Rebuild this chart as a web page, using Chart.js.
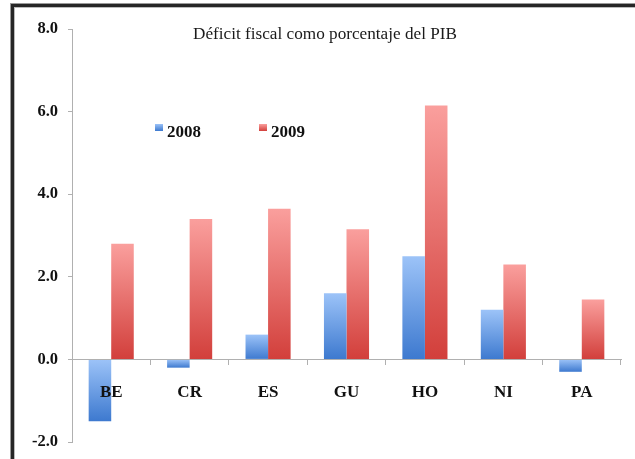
<!DOCTYPE html>
<html>
<head>
<meta charset="utf-8">
<script src="https://cdn.jsdelivr.net/npm/chart.js@4/dist/chart.umd.min.js"></script>
<style>
  html, body { margin: 0; padding: 0; background: #fff; }
  #wrap { position: relative; width: 635px; height: 459px; overflow: hidden; }
  #frame { position: absolute; left: 11px; top: 4px; width: 660px; height: 500px;
    border-top: 3px solid #262626; border-left: 3px solid #262626;
    box-shadow: -1px -1px 0 #9a9a9a, inset 1px 1px 0 #bbb; }
  canvas { position: absolute; left: 0; top: 0; }
</style>
</head>
<body>
<div id="wrap">
  <div id="frame"></div>
  <canvas id="chart" width="635" height="459"></canvas>
</div>
<script>
// datos
const paises = ['BE', 'CR', 'ES', 'GU', 'HO', 'NI', 'PA'];
const def2008 = [-1.5, -0.2, 0.6, 1.6, 2.5, 1.2, -0.3];
const def2009 = [2.8, 3.4, 3.65, 3.15, 6.15, 2.3, 1.45];
const titulo = 'Déficit fiscal como porcentaje del PIB';

const serif = 'Liberation Serif, Times New Roman, serif';

// degradado claro arriba -> oscuro abajo, para cada barra
function degradado(claro, oscuro) {
  return (c) => {
    const chart = c.chart;
    if (!chart.chartArea || c.type !== 'data' || !chart.scales.y) return oscuro;
    const y = chart.scales.y;
    const v = c.parsed.y;
    const y0 = y.getPixelForValue(Math.max(v, 0));
    const y1 = y.getPixelForValue(Math.min(v, 0));
    if (!isFinite(y0) || y1 - y0 < 1) return oscuro;
    const g = chart.ctx.createLinearGradient(0, y0, 0, y1);
    g.addColorStop(0, claro);
    g.addColorStop(1, oscuro);
    return g;
  };
}

const AZUL = ['#9cc3f8', '#3d79cf'];
const ROJO = ['#fa9f9d', '#d23f3b'];

// título y leyenda dentro del área del gráfico
const extras = {
  id: 'extras',
  afterDraw(chart) {
    const ctx = chart.ctx;
    ctx.save();
    ctx.fillStyle = '#1a1a1a';
    ctx.font = '17.2px ' + serif;
    ctx.textAlign = 'center';
    ctx.textBaseline = 'middle';
    ctx.fillText(titulo, 325, 34);

    const items = [['2008', AZUL, 155], ['2009', ROJO, 259]];
    ctx.textAlign = 'left';
    ctx.textBaseline = 'alphabetic';
    ctx.font = 'bold 17px ' + serif;
    for (const [txt, col, x] of items) {
      const g = ctx.createLinearGradient(0, 124, 0, 131);
      g.addColorStop(0, col[0]);
      g.addColorStop(1, col[1]);
      ctx.fillStyle = g;
      ctx.fillRect(x, 124, 8, 7);
      ctx.fillStyle = '#111';
      ctx.fillText(txt, x + 12, 137);
    }
    ctx.restore();
  },
};

new Chart(document.getElementById('chart'), {
  type: 'bar',
  data: {
    labels: paises,
    datasets: [
      { label: '2008', data: def2008, backgroundColor: degradado(AZUL[0], AZUL[1]) },
      { label: '2009', data: def2009, backgroundColor: degradado(ROJO[0], ROJO[1]) },
    ],
  },
  options: {
    responsive: false,
    animation: false,
    layout: { padding: { left: 0, top: 29, right: 14, bottom: 17 } },
    datasets: { bar: { categoryPercentage: 0.575, barPercentage: 1.0 } },
    scales: {
      x: {
        position: { y: 0 },
        offset: true,
        grid: { offset: true, drawOnChartArea: false, tickLength: 5, color: '#b0b0b0' },
        border: { color: '#b0b0b0' },
        // z > 0: las etiquetas se pintan encima de las barras (BE)
        ticks: { z: 1, color: '#111', padding: 18, font: { family: serif, weight: 'bold', size: 17 } },
      },
      y: {
        min: -2,
        max: 8,
        // ancho fijo y sin relleno extra: el área la fija layout.padding
        afterFit: (s) => { s.width = 72; s.paddingTop = 0; s.paddingBottom = 0; },
        grid: { drawOnChartArea: false, tickLength: 4, color: '#b0b0b0' },
        border: { color: '#b0b0b0' },
        ticks: {
          stepSize: 2,
          color: '#111',
          padding: 10,
          font: { family: serif, weight: 'bold', size: 16.5 },
          callback: (v) => v.toFixed(1),
        },
      },
    },
    plugins: { legend: { display: false }, tooltip: { enabled: false } },
  },
  plugins: [extras],
});
</script>
</body>
</html>
